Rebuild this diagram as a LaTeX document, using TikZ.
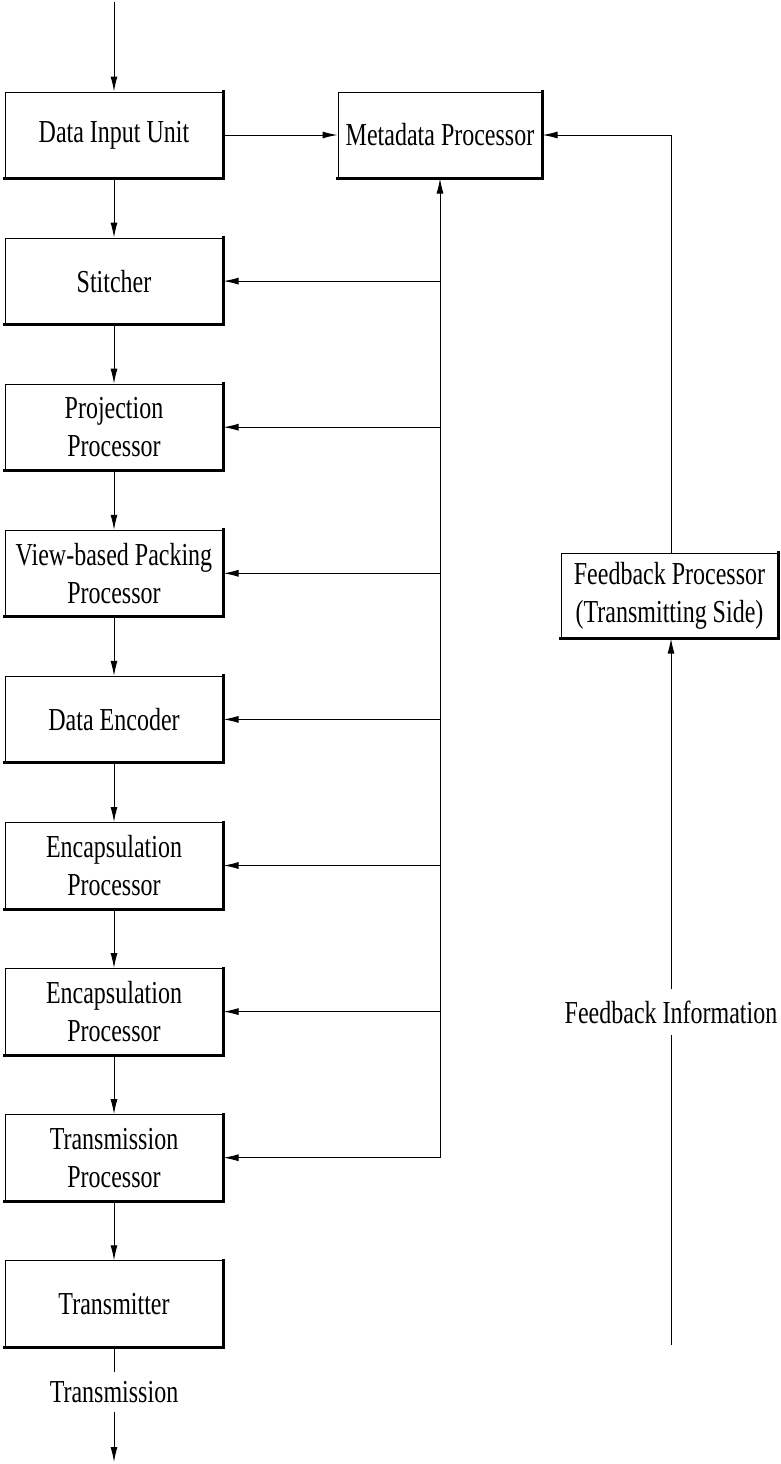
\documentclass[tikz,border=0pt]{standalone}
\usepackage{fontspec}
\setmainfont[FakeStretch=0.75]{Liberation Serif}
\usetikzlibrary{arrows.meta}

\tikzset{
  unitbox/.style={draw=black, line width=1pt, fill=white, align=center,
    minimum width=218pt, minimum height=86pt, inner sep=2pt,
    font=\fontsize{32}{38}\selectfont},
  shadowedge/.style={draw=black, line width=3pt, line cap=rect},
  link/.style={draw=black, line width=1pt},
  arr/.style={link, -{Latex[length=15pt,width=7pt]}},
  caption/.style={inner sep=0pt, font=\fontsize{32}{38}\selectfont}
}

\begin{document}
\begin{tikzpicture}[x=1pt,y=-1pt]
\useasboundingbox (0,0) rectangle (780,1464);

% main processing chain
\node[unitbox] (diu)  at (114,135)    {Data Input Unit};
\node[unitbox] (sti)  at (114,281.1)  {Stitcher};
\node[unitbox] (proj) at (114,427.2)  {Projection\\Processor};
\node[unitbox] (vbp)  at (114,573.3)  {View-based Packing\\Processor};
\node[unitbox] (enc)  at (114,719.4)  {Data Encoder};
\node[unitbox] (capa) at (114,865.5)  {Encapsulation\\Processor};
\node[unitbox] (capb) at (114,1011.6) {Encapsulation\\Processor};
\node[unitbox] (tproc) at (114,1157.7) {Transmission\\Processor};
\node[unitbox] (tx)   at (114,1303.8) {Transmitter};

% side units
\node[unitbox, minimum width=204pt] (meta) at (440,135) {Metadata Processor};
\node[unitbox, minimum width=217pt, minimum height=85pt] (fbp) at (669.5,595.5)
  {Feedback Processor\\(Transmitting Side)};

% thick right and bottom edges of every box
\foreach \b in {diu,sti,proj,vbp,enc,capa,capb,tproc,tx,meta,fbp}
  \draw[shadowedge] (\b.north east) -- (\b.south east) -- (\b.south west);

% chain arrows
\coordinate (src) at (114,2);
\draw[arr] (src) -- (diu.north);
\draw[arr] (diu.south) -- (sti.north);
\draw[arr] (sti.south) -- (proj.north);
\draw[arr] (proj.south) -- (vbp.north);
\draw[arr] (vbp.south) -- (enc.north);
\draw[arr] (enc.south) -- (capa.north);
\draw[arr] (capa.south) -- (capb.north);
\draw[arr] (capb.south) -- (tproc.north);
\draw[arr] (tproc.south) -- (tx.north);

% output
\node[caption] (txlabel) at (114,1392) {Transmission};
\coordinate (sink) at (114,1462);
\draw[link] (tx.south) -- (114,1372);
\draw[arr] (114,1412) -- (sink);

% data input to metadata
\draw[arr] (diu.east) -- (meta.west);

% metadata distribution bus
\coordinate (busend) at (440,1157.7);
\draw[arr] (busend) -- (meta.south);
\draw[arr] (busend) -- (tproc.east);
\foreach \b in {sti,proj,vbp,enc,capa,capb}
  \draw[arr] (\b.east -| busend) -- (\b.east);

% feedback path
\coordinate (fbturn) at (671,135);
\draw[arr] (fbp.north -| fbturn) -- (fbturn) -- (meta.east);
\node[caption, minimum height=45pt] (fbinfo) at (671,1012) {Feedback Information};
\coordinate (fbsrc) at (671,1345);
\draw[link] (fbsrc) -- (fbinfo.south -| fbsrc);
\draw[arr] (fbinfo.north -| fbsrc) -- (fbp.south -| fbsrc);
\end{tikzpicture}
\end{document}
